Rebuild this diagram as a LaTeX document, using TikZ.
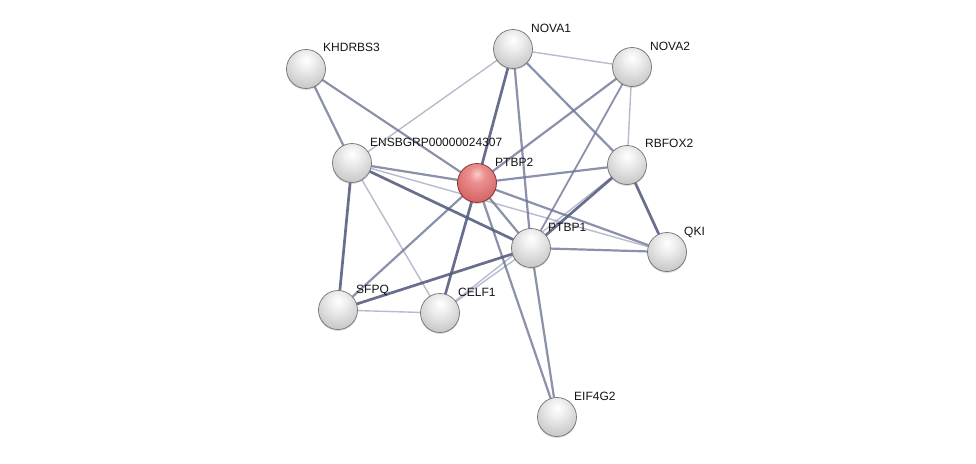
\documentclass[tikz,border=0pt]{standalone}
\usepackage{fontspec}
\setmainfont{Liberation Sans}
\usetikzlibrary{calc,shadows}
\definecolor{rA}{RGB}{250,205,205}
\definecolor{rB}{RGB}{236,145,145}
\definecolor{rC}{RGB}{214,104,104}
\definecolor{rD}{RGB}{192,82,82}
\definecolor{rE}{RGB}{238,146,146}
\definecolor{gA}{RGB}{255,255,255}
\definecolor{gB}{RGB}{240,240,240}
\definecolor{gC}{RGB}{204,204,204}
\definecolor{gD}{RGB}{176,176,176}
\definecolor{gE}{RGB}{218,218,218}
\definecolor{gF}{RGB}{189,189,189}
\pgfdeclareradialshading{greysphere}{\pgfpoint{0bp}{12bp}}{%
  color(0bp)=(gA);
  color(10bp)=(gB);
  color(30bp)=(gC);
  color(50bp)=(gD);
  color(58bp)=(gE);
  color(66bp)=(gF);
  color(100bp)=(gF)}
\pgfdeclareradialshading{redsphere}{\pgfpoint{0bp}{12bp}}{%
  color(0bp)=(rA);
  color(10bp)=(rB);
  color(30bp)=(rC);
  color(50bp)=(rD);
  color(58bp)=(rE);
  color(66bp)=(rD);
  color(100bp)=(rD)}
\definecolor{edgedark}{RGB}{84,92,126}
\definecolor{edgemid}{RGB}{110,118,150}
\definecolor{edgelight}{RGB}{165,170,194}
\definecolor{balledge}{RGB}{115,115,115}
\definecolor{redballedge}{RGB}{140,40,40}
\tikzset{
  sE/.style={line width=2.7pt, draw=edgedark, opacity=.88},
  mE/.style={line width=2.2pt, draw=edgemid, opacity=.8},
  wE/.style={line width=1.4pt, draw=edgelight, opacity=.8},
  greyball/.style={circle, minimum size=39pt, inner sep=0pt, shading=greysphere, draw=balledge, line width=0.7pt,
    drop shadow={opacity=0.25, shadow xshift=0pt, shadow yshift=-1.5pt}},
  redball/.style={greyball, shading=redsphere, draw=redballedge},
  lbl/.style={anchor=base west, inner sep=0pt, text=black!92, font=\fontsize{12}{14}\selectfont}
}
\begin{document}
\begin{tikzpicture}[x=1pt,y=-1pt]
\useasboundingbox[fill=white] (0,0) rectangle (976,463);
% node positions
\coordinate (khd) at (306,69);
\coordinate (nova1) at (513,49);
\coordinate (nova2) at (632,67);
\coordinate (ens) at (352,163);
\coordinate (ptbp2) at (477,183);
\coordinate (rbfox2) at (627,165);
\coordinate (ptbp1) at (531,248);
\coordinate (qki) at (667,252);
\coordinate (sfpq) at (338,310);
\coordinate (celf1) at (440,313);
\coordinate (eif) at (557,417);
% edges
\draw[wE] (nova1) -- (ens);
\draw[wE] (nova1) -- (nova2);
\draw[wE] (nova2) -- (rbfox2);
\draw[wE] (ens) -- (qki);
\draw[wE] (ens) -- (celf1);
\draw[wE] (rbfox2) -- (celf1);
\draw[wE] (ptbp1) -- (celf1);
\draw[wE] (sfpq) -- (celf1);
\draw[mE] (khd) -- (ens);
\draw[mE] (khd) -- (ptbp2);
\draw[mE] (nova1) -- (ptbp1);
\draw[mE] (nova1) -- (rbfox2);
\draw[mE] (nova2) -- (ptbp2);
\draw[mE, line width=1.8pt] (nova2) -- (ptbp1);
\draw[mE] (ens) -- (ptbp2);
\draw[mE] (ptbp2) -- (rbfox2);
\draw[mE] (ptbp2) -- (ptbp1);
\draw[mE] (ptbp2) -- (qki);
\draw[mE] (ptbp2) -- (sfpq);
\draw[mE] (ptbp2) -- (eif);
\draw[mE] (ptbp1) -- (qki);
\draw[mE] (ptbp1) -- (eif);
\draw[sE] (nova1) -- (ptbp2);
\draw[sE] (ens) -- (ptbp1);
\draw[sE] (ens) -- (sfpq);
\draw[sE] (ptbp2) -- (celf1);
\draw[sE] (rbfox2) -- (ptbp1);
\draw[sE] (rbfox2) -- (qki);
\draw[sE] (ptbp1) -- (sfpq);
% balls
\node[greyball] (khd-b) at (khd) {};
\node[greyball] (nova1-b) at (nova1) {};
\node[greyball] (nova2-b) at (nova2) {};
\node[greyball] (ens-b) at (ens) {};
\node[redball] (ptbp2-b) at (ptbp2) {};
\node[greyball] (rbfox2-b) at (rbfox2) {};
\node[greyball] (ptbp1-b) at (ptbp1) {};
\node[greyball] (qki-b) at (qki) {};
\node[greyball] (sfpq-b) at (sfpq) {};
\node[greyball] (celf1-b) at (celf1) {};
\node[greyball] (eif-b) at (eif) {};
% labels
\node[lbl] (khd-l) at ($(khd)+(17,-18)$) {KHDRBS3};
\node[lbl] (nova1-l) at ($(nova1)+(18,-17)$) {NOVA1};
\node[lbl] (nova2-l) at ($(nova2)+(18,-17)$) {NOVA2};
\node[lbl] (ens-l) at ($(ens)+(18,-17)$) {ENSBGRP00000024307};
\node[lbl] (ptbp2-l) at ($(ptbp2)+(18,-17)$) {PTBP2};
\node[lbl] (rbfox2-l) at ($(rbfox2)+(18,-18)$) {RBFOX2};
\node[lbl] (ptbp1-l) at ($(ptbp1)+(17,-17)$) {PTBP1};
\node[lbl] (qki-l) at ($(qki)+(17,-17)$) {QKI};
\node[lbl] (sfpq-l) at ($(sfpq)+(18,-17)$) {SFPQ};
\node[lbl] (celf1-l) at ($(celf1)+(18,-17)$) {CELF1};
\node[lbl] (eif-l) at ($(eif)+(17,-17)$) {EIF4G2};
\end{tikzpicture}
\end{document}
